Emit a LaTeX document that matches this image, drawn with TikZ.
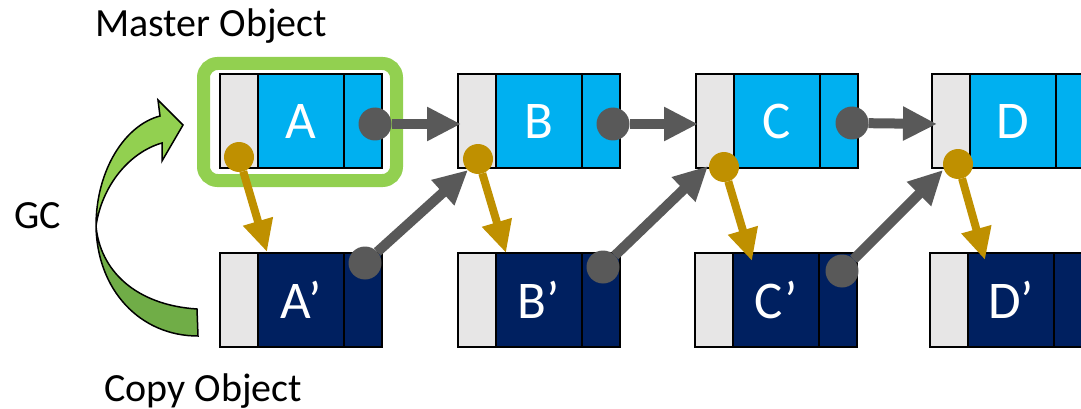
\documentclass[tikz,border=0pt]{standalone}
\usepackage{fontspec}
\setmainfont{Carlito}
\usetikzlibrary{arrows.meta}

\definecolor{topblue}{HTML}{00B0F0}
\definecolor{copynavy}{HTML}{002060}
\definecolor{cellgray}{HTML}{E7E6E6}
\definecolor{gclight}{HTML}{92D050}
\definecolor{gcdark}{HTML}{70AD47}
\definecolor{ptrgray}{HTML}{595959}
\definecolor{fwdgold}{HTML}{BF9000}

\begin{document}
\begin{tikzpicture}[x=1pt, y=-1pt,
    every node/.style={inner sep=0pt, outer sep=0pt},
    cell/.style={draw=black, line width=2.5pt, minimum height=94pt},
    lcell/.style={cell, fill=cellgray, minimum width=38pt},
    mcell/.style={cell, minimum width=86pt, text=white, font=\fontsize{53}{60}\selectfont},
    rcell/.style={cell, minimum width=38pt},
    label/.style={font=\fontsize{40}{44}\selectfont, anchor=base},
    ptrdot/.style={circle, fill=ptrgray, minimum size=33pt},
    golddot/.style={circle, fill=fwdgold, minimum size=30pt},
    ptrarrow/.style={draw=ptrgray, line width=10pt, -{Triangle[length=34pt, width=32pt]}},
    goldarrow/.style={draw=fwdgold, line width=8pt, -{Triangle[length=32pt, width=29pt]}}]
  \useasboundingbox (0,0) rectangle (1081,409);
  \clip (0,0) rectangle (1081,409);

  \node[label] (mlabel) at (211,37) {Master Object};
  \node[label] (clabel) at (203,401) {Copy Object};
  \node[label] (gc) at (38,228) {GC};

  % GC arrow
  \fill[gcdark, draw=black, line width=1.5pt] (96,226) .. controls (100,270) and (135,305) .. (197,309)
    -- (198,336) .. controls (140,336) and (97,290) .. (96,226) -- cycle;
  \fill[gclight, draw=black, line width=1.5pt] (96,226) .. controls (96,170) and (125,125) .. (160,116)
    -- (158,100) -- (183,125) -- (162,161) -- (162,143) .. controls (130,152) and (102,185) .. (96,226) -- cycle;

  \node[draw=gclight, line width=13pt, rounded corners=14pt, minimum width=193pt, minimum height=117pt] (master) at (300,122) {};

  % master objects
  \node[lcell] (la1) at (239,121) {};
  \node[mcell, fill=topblue] (a1) at (301,121) {A};
  \node[rcell, fill=topblue] (ra1) at (363,121) {};
  \node[lcell] (lb1) at (477,121) {};
  \node[mcell, fill=topblue] (b1) at (539,121) {B};
  \node[rcell, fill=topblue] (rb1) at (601,121) {};
  \node[lcell] (lc1) at (715,121) {};
  \node[mcell, fill=topblue] (c1) at (777,121) {C};
  \node[rcell, fill=topblue] (rc1) at (839,121) {};
  \node[lcell] (ld1) at (951,121) {};
  \node[mcell, fill=topblue] (d1) at (1013,121) {D};
  \node[rcell, fill=topblue] (rd1) at (1075,121) {};

  % copy objects
  \node[lcell] (la2) at (239,300) {};
  \node[mcell, fill=copynavy] (a2) at (301,300) {A’};
  \node[rcell, fill=copynavy] (ra2) at (363,300) {};
  \node[lcell] (lb2) at (477,300) {};
  \node[mcell, fill=copynavy] (b2) at (539,300) {B’};
  \node[rcell, fill=copynavy] (rb2) at (601,300) {};
  \node[lcell] (lc2) at (714,300) {};
  \node[mcell, fill=copynavy] (c2) at (776,300) {C’};
  \node[rcell, fill=copynavy] (rc2) at (838,300) {};
  \node[lcell] (ld2) at (949,300) {};
  \node[mcell, fill=copynavy] (d2) at (1011,300) {D’};
  \node[rcell, fill=copynavy] (rd2) at (1073,300) {};

  \node[ptrdot] (pa1) at (375,124) {};
  \node[ptrdot] (pb1) at (613,124) {};
  \node[ptrdot] (pc1) at (852,123) {};
  \node[ptrdot] (pa2) at (365,263) {};
  \node[ptrdot] (pb2) at (603,267) {};
  \node[ptrdot] (pc2) at (842,271) {};
  \node[golddot] (ga) at (239,157) {};
  \node[golddot] (gb) at (478,159) {};
  \node[golddot] (gc) at (724,167) {};
  \node[golddot] (gd) at (958,164) {};

  \path[ptrarrow] (pa1) -- ([xshift=3pt, yshift=-3pt]lb1.west);
  \path[ptrarrow] (pb1) -- ([xshift=2pt, yshift=-3pt]lc1.west);
  \path[ptrarrow] (pc1) -- ([xshift=5pt, yshift=-3pt]ld1.west);
  \path[ptrarrow] (pa2) -- ([xshift=10pt, yshift=-2pt]lb1.south west);
  \path[ptrarrow] (pb2) -- ([xshift=12pt, yshift=2pt]lc1.south west);
  \path[ptrarrow] (pc2) -- ([xshift=11pt, yshift=-2pt]ld1.south west);

  \path[goldarrow] (ga) -- ([xshift=9pt, yshift=1pt]a2.north west);
  \path[goldarrow] (gb) -- ([xshift=10pt]b2.north west);
  \path[goldarrow] (gc) -- ([xshift=19pt, yshift=-8pt]c2.north west);
  \path[goldarrow] (gd) -- ([xshift=17pt, yshift=-7pt]d2.north west);
\end{tikzpicture}
\end{document}
